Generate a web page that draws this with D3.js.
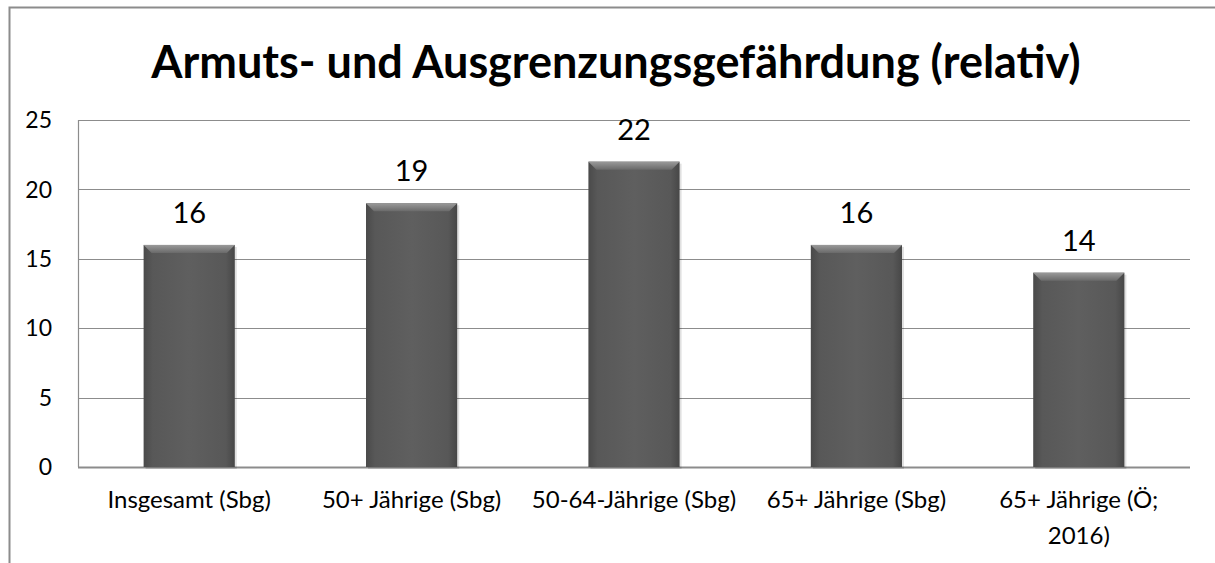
<!DOCTYPE html>
<html>
<head>
<meta charset="utf-8">
<script src="https://cdn.jsdelivr.net/npm/d3@7"></script>
<style>
  body { margin: 0; background: #fff; }
  svg text { font-family: Lato, "Open Sans", sans-serif; }
</style>
</head>
<body>
<script>
const categories = ["Insgesamt (Sbg)", "50+ Jährige (Sbg)", "50-64-Jährige (Sbg)", "65+ Jährige (Sbg)", "65+ Jährige (Ö; 2016)"];
const values = [16, 19, 22, 16, 14];
const yTicks = [0, 5, 10, 15, 20, 25];

const outerWidth = 1215;
const outerHeight = 563;
const margin = {top: 120, left: 78, bottom: 96, right: 25};
const width = outerWidth - margin.left - margin.right;
const height = outerHeight - margin.top - margin.bottom;

const svg = d3.select('body')
    .append('svg')
    .attr('width', outerWidth)
    .attr('height', outerHeight);

// outer frame (left + top only visible)
svg.append('path')
    .attr('d', `M9.5,${outerHeight} L9.5,7.5 L${outerWidth},7.5`)
    .attr('fill', 'none')
    .attr('stroke', '#8c8c8c')
    .attr('stroke-width', 2);

svg.append('text')
    .attr('x', 616)
    .attr('y', 78)
    .attr('text-anchor', 'middle')
    .attr('font-size', 45)
    .attr('font-weight', 'bold')
    .text('Armuts- und Ausgrenzungsgefährdung (relativ)');

const defs = svg.append('defs');
const grad = defs.append('linearGradient').attr('id', 'barGrad')
    .attr('x1', 0).attr('x2', 1).attr('y1', 0).attr('y2', 0);
grad.append('stop').attr('offset', '0%').attr('stop-color', '#4a4a4a');
grad.append('stop').attr('offset', '10%').attr('stop-color', '#585858');
grad.append('stop').attr('offset', '50%').attr('stop-color', '#5f5f5f');
grad.append('stop').attr('offset', '90%').attr('stop-color', '#585858');
grad.append('stop').attr('offset', '100%').attr('stop-color', '#474747');

const topGrad = defs.append('linearGradient').attr('id', 'topGrad')
    .attr('x1', 0).attr('x2', 0).attr('y1', 0).attr('y2', 1);
topGrad.append('stop').attr('offset', '0%').attr('stop-color', '#9a9a9a');
topGrad.append('stop').attr('offset', '100%').attr('stop-color', '#6a6a6a');

const g = svg.append('g')
    .attr('transform', `translate(${margin.left}, ${margin.top})`);

const x = d3.scaleBand()
    .domain(categories)
    .range([0, width])
    .paddingInner(0.59)
    .paddingOuter(0.295);

const y = d3.scaleLinear()
    .domain([0, 25])
    .range([height, 0]);

// gridlines
g.selectAll('line.grid')
    .data(yTicks)
    .join('line')
    .attr('class', 'grid')
    .attr('x1', 0).attr('x2', width)
    .attr('y1', d => Math.round(y(d)) + 0.5)
    .attr('y2', d => Math.round(y(d)) + 0.5)
    .attr('stroke', '#8c8c8c')
    .attr('stroke-width', d => d === 0 ? 2 : 1.2);

g.append('line')
    .attr('x1', 0.5).attr('x2', 0.5)
    .attr('y1', 0).attr('y2', height)
    .attr('stroke', '#8c8c8c')
    .attr('stroke-width', 1.2);

// y labels
g.selectAll('text.ytick')
    .data(yTicks)
    .join('text')
    .attr('class', 'ytick')
    .attr('x', -26)
    .attr('y', d => y(d))
    .attr('dy', '0.36em')
    .attr('text-anchor', 'end')
    .attr('font-size', 23)
    .text(d => d);

// bars
const bars = g.selectAll('g.bar')
    .data(values)
    .join('g')
    .attr('class', 'bar');

bars.append('rect')
    .attr('x', (d, i) => x(categories[i]) + 2)
    .attr('y', d => y(d) + 2)
    .attr('width', x.bandwidth())
    .attr('height', d => height - y(d))
    .attr('fill', '#000')
    .attr('opacity', 0.12);

bars.append('rect')
    .attr('x', (d, i) => x(categories[i]))
    .attr('y', d => y(d))
    .attr('width', x.bandwidth())
    .attr('height', d => height - y(d))
    .attr('fill', 'url(#barGrad)');

// top bevel
bars.append('path')
    .attr('d', (d, i) => {
        const x0 = x(categories[i]), x1 = x0 + x.bandwidth(), t = y(d), b = 8;
        return `M${x0},${t} L${x1},${t} L${x1 - b},${t + b} L${x0 + b},${t + b} Z`;
    })
    .attr('fill', 'url(#topGrad)');

// value labels
g.selectAll('text.val')
    .data(values)
    .join('text')
    .attr('class', 'val')
    .attr('x', (d, i) => x(categories[i]) + x.bandwidth() / 2)
    .attr('y', d => y(d) - 22)
    .attr('text-anchor', 'middle')
    .attr('font-size', 29)
    .text(d => d);

// category labels
const wrap = {"65+ Jährige (Ö; 2016)": ["65+ Jährige (Ö;", "2016)"]};
g.selectAll('text.cat')
    .data(categories)
    .join('text')
    .attr('class', 'cat')
    .attr('text-anchor', 'middle')
    .attr('font-size', 24)
    .each(function(d) {
        const lines = wrap[d] || [d];
        d3.select(this).selectAll('tspan')
            .data(lines)
            .join('tspan')
            .attr('x', x(d) + x.bandwidth() / 2)
            .attr('y', (l, j) => height + 41 + j * 36)
            .text(l => l);
    });
</script>
</body>
</html>
